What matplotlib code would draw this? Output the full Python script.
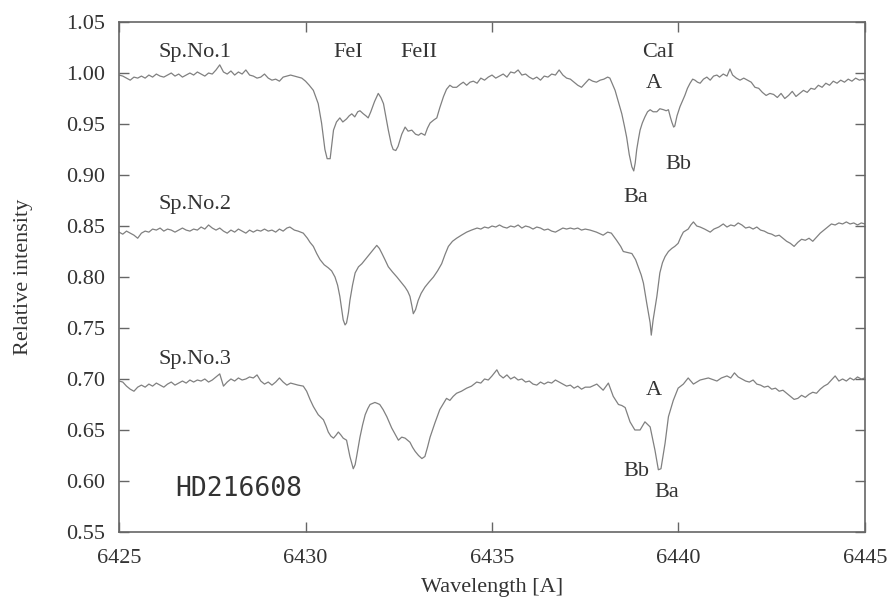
import matplotlib
matplotlib.use('Agg')
import matplotlib.pyplot as plt

# spectra of HD216608: (wavelength [A], relative intensity)
spec1 = [
    (6425.0, 0.998), (6425.1, 0.997), (6425.2, 0.995), (6425.3, 0.993), (6425.4, 0.996),
    (6425.5, 0.995), (6425.6, 0.997), (6425.7, 0.995), (6425.8, 0.998), (6425.9, 0.996),
    (6426.0, 0.999), (6426.1, 0.997), (6426.2, 0.996), (6426.3, 0.998), (6426.4, 1.000),
    (6426.5, 0.997), (6426.6, 0.999), (6426.7, 0.996), (6426.8, 0.998), (6426.9, 1.000),
    (6427.0, 0.998), (6427.1, 1.001), (6427.2, 0.999), (6427.3, 0.997), (6427.4, 1.000),
    (6427.5, 0.999), (6427.6, 1.003), (6427.7, 1.008), (6427.8, 1.001), (6427.9, 0.999),
    (6428.0, 1.002), (6428.1, 0.998), (6428.2, 1.001), (6428.3, 0.999), (6428.4, 1.003),
    (6428.5, 0.998), (6428.6, 0.997), (6428.7, 0.995), (6428.8, 0.996), (6428.9, 0.999),
    (6429.0, 0.995), (6429.1, 0.993), (6429.2, 0.994), (6429.3, 0.992), (6429.4, 0.996),
    (6429.5, 0.997), (6429.6, 0.998), (6429.7, 0.997), (6429.8, 0.996), (6429.9, 0.995),
    (6430.0, 0.992), (6430.1, 0.988), (6430.21, 0.983), (6430.34, 0.970), (6430.43, 0.951),
    (6430.52, 0.925), (6430.58, 0.916), (6430.66, 0.916), (6430.75, 0.944), (6430.83, 0.952),
    (6430.92, 0.956), (6431.0, 0.952), (6431.1, 0.955), (6431.17, 0.958), (6431.24, 0.960),
    (6431.32, 0.957), (6431.4, 0.962), (6431.46, 0.963), (6431.55, 0.960), (6431.62, 0.958),
    (6431.68, 0.956), (6431.75, 0.962), (6431.85, 0.972), (6431.95, 0.980), (6432.02, 0.976),
    (6432.09, 0.970), (6432.15, 0.958), (6432.22, 0.944), (6432.3, 0.930), (6432.35, 0.925),
    (6432.42, 0.924), (6432.48, 0.928), (6432.58, 0.940), (6432.67, 0.947), (6432.75, 0.943),
    (6432.85, 0.944), (6432.95, 0.940), (6433.03, 0.939), (6433.1, 0.941), (6433.2, 0.939),
    (6433.27, 0.946), (6433.34, 0.951), (6433.44, 0.954), (6433.52, 0.956), (6433.6, 0.966),
    (6433.7, 0.977), (6433.78, 0.984), (6433.87, 0.988), (6433.95, 0.986), (6434.05, 0.986),
    (6434.15, 0.989), (6434.23, 0.991), (6434.32, 0.988), (6434.41, 0.991), (6434.5, 0.992),
    (6434.6, 0.990), (6434.7, 0.995), (6434.8, 0.993), (6434.9, 0.996), (6435.0, 0.998),
    (6435.1, 0.995), (6435.2, 0.997), (6435.3, 0.999), (6435.4, 0.996), (6435.5, 1.001),
    (6435.6, 1.000), (6435.7, 1.003), (6435.8, 0.998), (6435.9, 0.999), (6436.0, 0.996),
    (6436.1, 0.994), (6436.2, 0.996), (6436.3, 0.993), (6436.4, 0.997), (6436.5, 0.996),
    (6436.6, 0.999), (6436.7, 0.998), (6436.8, 1.003), (6436.9, 0.998), (6437.0, 0.995),
    (6437.1, 0.994), (6437.2, 0.991), (6437.3, 0.988), (6437.4, 0.986), (6437.5, 0.990),
    (6437.6, 0.994), (6437.7, 0.992), (6437.8, 0.991), (6437.9, 0.993), (6438.0, 0.994),
    (6438.1, 0.996), (6438.16, 0.995), (6438.3, 0.983), (6438.4, 0.970), (6438.48, 0.960),
    (6438.55, 0.948), (6438.61, 0.937), (6438.68, 0.920), (6438.75, 0.908), (6438.8, 0.904),
    (6438.84, 0.912), (6438.88, 0.925), (6438.93, 0.936), (6438.97, 0.944), (6439.03, 0.951),
    (6439.1, 0.957), (6439.17, 0.962), (6439.24, 0.964), (6439.32, 0.962), (6439.42, 0.962),
    (6439.5, 0.965), (6439.6, 0.964), (6439.67, 0.963), (6439.73, 0.964), (6439.78, 0.957),
    (6439.82, 0.952), (6439.87, 0.947), (6439.9, 0.948), (6439.96, 0.958), (6440.04, 0.967),
    (6440.1, 0.972), (6440.17, 0.978), (6440.24, 0.985), (6440.31, 0.990), (6440.38, 0.994),
    (6440.44, 0.993), (6440.51, 0.991), (6440.58, 0.990), (6440.67, 0.994), (6440.76, 0.996),
    (6440.85, 0.993), (6440.94, 0.997), (6441.03, 0.998), (6441.1, 0.996), (6441.2, 0.999),
    (6441.3, 0.997), (6441.38, 1.004), (6441.45, 0.998), (6441.55, 0.995), (6441.65, 0.993),
    (6441.75, 0.995), (6441.85, 0.993), (6441.95, 0.991), (6442.05, 0.986), (6442.15, 0.985),
    (6442.25, 0.981), (6442.35, 0.978), (6442.45, 0.980), (6442.55, 0.979), (6442.65, 0.976),
    (6442.75, 0.980), (6442.85, 0.975), (6442.95, 0.978), (6443.05, 0.982), (6443.15, 0.977),
    (6443.25, 0.980), (6443.35, 0.983), (6443.45, 0.981), (6443.55, 0.985), (6443.65, 0.984),
    (6443.75, 0.988), (6443.85, 0.986), (6443.95, 0.990), (6444.05, 0.988), (6444.15, 0.992),
    (6444.25, 0.990), (6444.35, 0.993), (6444.45, 0.991), (6444.55, 0.994), (6444.65, 0.992),
    (6444.75, 0.995), (6444.85, 0.993), (6444.95, 0.994), (6445.0, 0.992),
]

spec2 = [
    (6425.0, 0.844), (6425.1, 0.842), (6425.2, 0.845), (6425.3, 0.843), (6425.4, 0.841),
    (6425.5, 0.838), (6425.6, 0.843), (6425.7, 0.845), (6425.8, 0.844), (6425.9, 0.847),
    (6426.0, 0.846), (6426.1, 0.848), (6426.2, 0.845), (6426.3, 0.847), (6426.4, 0.846),
    (6426.5, 0.844), (6426.6, 0.846), (6426.7, 0.848), (6426.8, 0.846), (6426.9, 0.845),
    (6427.0, 0.847), (6427.1, 0.846), (6427.2, 0.849), (6427.3, 0.847), (6427.4, 0.851),
    (6427.5, 0.848), (6427.6, 0.846), (6427.7, 0.848), (6427.8, 0.845), (6427.9, 0.843),
    (6428.0, 0.846), (6428.1, 0.844), (6428.2, 0.847), (6428.3, 0.845), (6428.4, 0.843),
    (6428.5, 0.846), (6428.6, 0.844), (6428.7, 0.846), (6428.8, 0.845), (6428.9, 0.847),
    (6429.0, 0.845), (6429.1, 0.846), (6429.2, 0.844), (6429.3, 0.847), (6429.4, 0.845),
    (6429.5, 0.848), (6429.58, 0.849), (6429.7, 0.846), (6429.8, 0.845), (6429.94, 0.843),
    (6430.05, 0.838), (6430.12, 0.834), (6430.21, 0.830), (6430.3, 0.823), (6430.39, 0.817),
    (6430.5, 0.812), (6430.61, 0.809), (6430.7, 0.806), (6430.79, 0.800), (6430.86, 0.792),
    (6430.92, 0.781), (6430.97, 0.768), (6431.01, 0.758), (6431.06, 0.753), (6431.1, 0.755),
    (6431.15, 0.765), (6431.19, 0.777), (6431.26, 0.792), (6431.33, 0.804), (6431.42, 0.810),
    (6431.51, 0.813), (6431.62, 0.818), (6431.73, 0.823), (6431.82, 0.827), (6431.91, 0.831),
    (6431.98, 0.828), (6432.05, 0.823), (6432.13, 0.817), (6432.22, 0.810), (6432.33, 0.805),
    (6432.45, 0.800), (6432.56, 0.795), (6432.67, 0.790), (6432.74, 0.786), (6432.8, 0.781),
    (6432.85, 0.772), (6432.89, 0.764), (6432.95, 0.768), (6433.02, 0.777), (6433.1, 0.784),
    (6433.2, 0.790), (6433.31, 0.795), (6433.43, 0.800), (6433.54, 0.806), (6433.65, 0.813),
    (6433.74, 0.822), (6433.83, 0.830), (6433.94, 0.835), (6434.05, 0.838), (6434.18, 0.841),
    (6434.32, 0.844), (6434.45, 0.846), (6434.6, 0.848), (6434.7, 0.847), (6434.8, 0.849),
    (6434.9, 0.848), (6435.0, 0.850), (6435.1, 0.849), (6435.2, 0.851), (6435.3, 0.849),
    (6435.4, 0.848), (6435.5, 0.850), (6435.6, 0.849), (6435.7, 0.851), (6435.8, 0.848),
    (6435.9, 0.850), (6436.0, 0.849), (6436.1, 0.847), (6436.2, 0.849), (6436.3, 0.848),
    (6436.4, 0.846), (6436.5, 0.847), (6436.6, 0.845), (6436.7, 0.844), (6436.8, 0.846),
    (6436.9, 0.848), (6437.0, 0.847), (6437.1, 0.848), (6437.2, 0.847), (6437.3, 0.848),
    (6437.4, 0.846), (6437.5, 0.847), (6437.63, 0.846), (6437.8, 0.844), (6437.98, 0.841),
    (6438.1, 0.844), (6438.2, 0.843), (6438.34, 0.836), (6438.45, 0.830), (6438.52, 0.825),
    (6438.63, 0.824), (6438.75, 0.823), (6438.85, 0.817), (6438.92, 0.810), (6439.0, 0.802),
    (6439.06, 0.794), (6439.15, 0.774), (6439.24, 0.755), (6439.27, 0.743), (6439.32, 0.758),
    (6439.42, 0.781), (6439.5, 0.804), (6439.57, 0.814), (6439.64, 0.820), (6439.73, 0.825),
    (6439.82, 0.828), (6439.9, 0.830), (6439.99, 0.833), (6440.06, 0.839), (6440.13, 0.844),
    (6440.26, 0.847), (6440.33, 0.851), (6440.4, 0.854), (6440.49, 0.850), (6440.58, 0.849),
    (6440.7, 0.847), (6440.85, 0.844), (6440.95, 0.847), (6441.08, 0.849), (6441.2, 0.852),
    (6441.3, 0.849), (6441.4, 0.851), (6441.5, 0.850), (6441.6, 0.853), (6441.7, 0.851),
    (6441.8, 0.848), (6441.9, 0.849), (6442.0, 0.847), (6442.1, 0.849), (6442.2, 0.846),
    (6442.3, 0.845), (6442.4, 0.843), (6442.5, 0.842), (6442.6, 0.840), (6442.7, 0.841),
    (6442.8, 0.838), (6442.9, 0.835), (6443.0, 0.833), (6443.1, 0.830), (6443.2, 0.834),
    (6443.3, 0.837), (6443.4, 0.836), (6443.5, 0.838), (6443.6, 0.835), (6443.7, 0.839),
    (6443.8, 0.843), (6443.9, 0.846), (6444.0, 0.849), (6444.1, 0.852), (6444.2, 0.851),
    (6444.3, 0.853), (6444.4, 0.852), (6444.5, 0.854), (6444.6, 0.852), (6444.7, 0.853),
    (6444.8, 0.851), (6444.9, 0.853), (6445.0, 0.852),
]

spec3 = [
    (6425.0, 0.698), (6425.1, 0.697), (6425.2, 0.693), (6425.3, 0.690), (6425.4, 0.688),
    (6425.5, 0.692), (6425.6, 0.694), (6425.7, 0.692), (6425.8, 0.695), (6425.9, 0.693),
    (6426.0, 0.696), (6426.1, 0.694), (6426.2, 0.692), (6426.3, 0.695), (6426.4, 0.697),
    (6426.5, 0.694), (6426.6, 0.696), (6426.7, 0.698), (6426.8, 0.696), (6426.9, 0.699),
    (6427.0, 0.697), (6427.1, 0.699), (6427.2, 0.698), (6427.3, 0.700), (6427.4, 0.697),
    (6427.5, 0.699), (6427.6, 0.702), (6427.7, 0.705), (6427.8, 0.693), (6427.9, 0.697),
    (6428.0, 0.700), (6428.1, 0.698), (6428.2, 0.701), (6428.3, 0.699), (6428.4, 0.700),
    (6428.5, 0.702), (6428.6, 0.701), (6428.7, 0.704), (6428.8, 0.698), (6428.9, 0.695),
    (6429.0, 0.697), (6429.1, 0.694), (6429.2, 0.697), (6429.3, 0.701), (6429.4, 0.697),
    (6429.5, 0.694), (6429.6, 0.696), (6429.7, 0.695), (6429.8, 0.694), (6429.94, 0.693),
    (6430.03, 0.688), (6430.12, 0.680), (6430.21, 0.673), (6430.34, 0.665), (6430.48, 0.660),
    (6430.55, 0.654), (6430.61, 0.648), (6430.68, 0.644), (6430.75, 0.642), (6430.82, 0.645),
    (6430.88, 0.648), (6430.95, 0.645), (6431.01, 0.642), (6431.1, 0.640), (6431.19, 0.624),
    (6431.28, 0.612), (6431.33, 0.616), (6431.37, 0.624), (6431.46, 0.643), (6431.53, 0.655),
    (6431.6, 0.665), (6431.67, 0.671), (6431.73, 0.675), (6431.86, 0.677), (6431.93, 0.676),
    (6431.99, 0.675), (6432.08, 0.670), (6432.18, 0.663), (6432.31, 0.652), (6432.4, 0.646),
    (6432.49, 0.640), (6432.58, 0.643), (6432.67, 0.642), (6432.8, 0.638), (6432.87, 0.633),
    (6432.94, 0.629), (6433.03, 0.625), (6433.12, 0.622), (6433.2, 0.624), (6433.27, 0.633),
    (6433.34, 0.643), (6433.47, 0.657), (6433.6, 0.670), (6433.7, 0.676), (6433.78, 0.681),
    (6433.87, 0.679), (6433.96, 0.683), (6434.05, 0.686), (6434.18, 0.688), (6434.32, 0.691),
    (6434.45, 0.693), (6434.59, 0.697), (6434.7, 0.696), (6434.8, 0.700), (6434.9, 0.699),
    (6435.0, 0.703), (6435.13, 0.709), (6435.2, 0.704), (6435.3, 0.701), (6435.4, 0.704),
    (6435.5, 0.700), (6435.6, 0.702), (6435.7, 0.699), (6435.8, 0.700), (6435.9, 0.697),
    (6436.0, 0.698), (6436.1, 0.695), (6436.2, 0.694), (6436.3, 0.697), (6436.4, 0.695),
    (6436.5, 0.697), (6436.6, 0.696), (6436.7, 0.699), (6436.8, 0.697), (6436.9, 0.695),
    (6437.0, 0.693), (6437.1, 0.694), (6437.2, 0.691), (6437.3, 0.693), (6437.4, 0.690),
    (6437.5, 0.692), (6437.63, 0.692), (6437.81, 0.695), (6437.98, 0.689), (6438.12, 0.696),
    (6438.25, 0.683), (6438.39, 0.675), (6438.48, 0.674), (6438.57, 0.672), (6438.7, 0.658),
    (6438.83, 0.650), (6438.97, 0.650), (6439.1, 0.658), (6439.24, 0.653), (6439.37, 0.630),
    (6439.46, 0.611), (6439.53, 0.612), (6439.64, 0.637), (6439.73, 0.663), (6439.86, 0.679),
    (6439.99, 0.691), (6440.13, 0.695), (6440.26, 0.701), (6440.4, 0.695), (6440.58, 0.699),
    (6440.8, 0.701), (6441.03, 0.698), (6441.15, 0.701), (6441.3, 0.703), (6441.4, 0.701),
    (6441.5, 0.706), (6441.6, 0.702), (6441.7, 0.700), (6441.8, 0.698), (6441.9, 0.697),
    (6442.0, 0.699), (6442.1, 0.695), (6442.2, 0.694), (6442.3, 0.692), (6442.4, 0.693),
    (6442.5, 0.690), (6442.6, 0.691), (6442.7, 0.688), (6442.8, 0.689), (6442.9, 0.686),
    (6443.0, 0.683), (6443.1, 0.680), (6443.2, 0.681), (6443.3, 0.684), (6443.4, 0.682),
    (6443.5, 0.685), (6443.6, 0.687), (6443.7, 0.686), (6443.8, 0.690), (6443.9, 0.693),
    (6444.0, 0.695), (6444.1, 0.699), (6444.2, 0.703), (6444.3, 0.698), (6444.4, 0.700),
    (6444.5, 0.698), (6444.6, 0.701), (6444.7, 0.699), (6444.8, 0.702), (6444.9, 0.700),
    (6445.0, 0.701),
]

x_ticks = [6425, 6430, 6435, 6440, 6445]
y_ticks = [0.55, 0.60, 0.65, 0.70, 0.75, 0.80, 0.85, 0.90, 0.95, 1.00, 1.05]

# (text, wavelength, intensity) annotations
labels_serif = [
    ("Sp.No.1", 6426.05, 1.020), ("FeI", 6431.14, 1.020), ("FeII", 6433.04, 1.020),
    ("CaI", 6439.45, 1.020), ("A", 6439.34, 0.990), ("Bb", 6439.99, 0.910),
    ("Ba", 6438.86, 0.878), ("Sp.No.2", 6426.05, 0.871), ("Sp.No.3", 6426.05, 0.719),
    ("A", 6439.34, 0.689), ("Bb", 6438.88, 0.609), ("Ba", 6439.69, 0.589),
]

serif = 'Liberation Serif'
text_col = '#333333'
line_col = '#808080'

fig = plt.figure(figsize=(8.91, 6.05), dpi=100)
ax = fig.add_axes([0.1336, 0.1207, 0.8372, 0.8429])

for spec in (spec1, spec2, spec3):
    wl = [p[0] for p in spec]
    fl = [p[1] for p in spec]
    ax.plot(wl, fl, color=line_col, lw=0.9)

for txt, wx, wy in labels_serif:
    ha = 'left' if txt.startswith('Sp') else 'center'
    ax.text(wx, wy, txt, ha=ha, va='center', fontsize=16, family=serif, color=text_col)

ax.text(6426.5, 0.592, "HD216608", ha='left', va='center', fontsize=19,
        family='DejaVu Sans Mono', color=text_col)

ax.set_xlim(6425, 6445)
ax.set_ylim(0.55, 1.05)
ax.set_xticks(x_ticks)
ax.set_yticks(y_ticks)
ax.set_xticklabels([str(v) for v in x_ticks], family=serif, fontsize=16, color=text_col)
ax.set_yticklabels([f"{v:.2f}" for v in y_ticks], family=serif, fontsize=16, color=text_col)
ax.tick_params(direction='in', length=7, width=1, color='#666666', top=True, right=True)
ax.tick_params(axis='x', pad=12)
ax.tick_params(axis='y', pad=10)
for s in ax.spines.values():
    s.set_color('#666666')
    s.set_linewidth(1.2)

ax.set_xlabel("Wavelength [A]", family=serif, fontsize=16, color=text_col)
ax.set_ylabel("Relative intensity", family=serif, fontsize=16, color=text_col)
ax.xaxis.set_label_coords(0.5, -0.09)
ax.yaxis.set_label_coords(-0.116, 0.5)

fig.savefig('out.png', dpi=100)
